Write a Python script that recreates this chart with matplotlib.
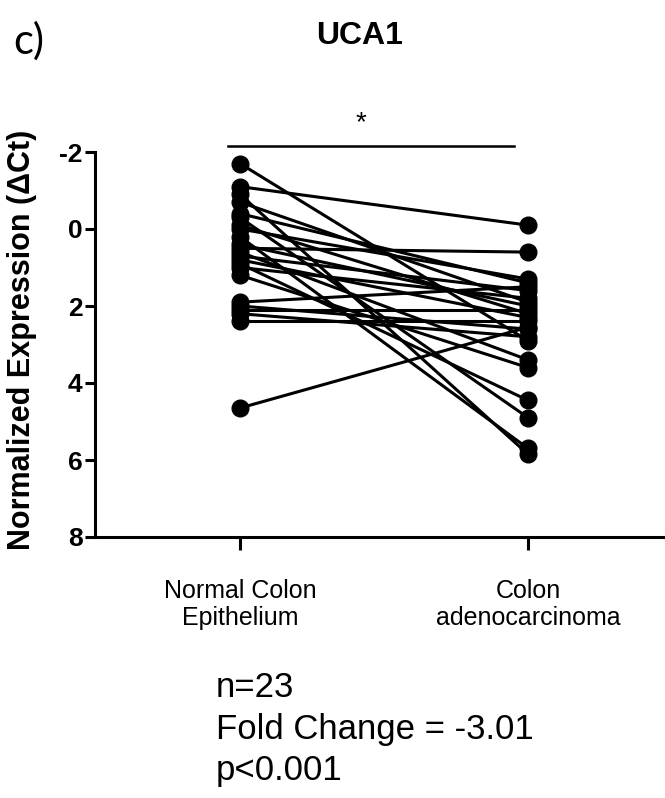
import matplotlib
matplotlib.use("Agg")
import matplotlib.pyplot as plt

plt.rcParams['font.family'] = ['Liberation Sans', 'DejaVu Sans']

groups = ["Normal Colon\nEpithelium", "Colon\nadenocarcinoma"]
normal = [-1.7, -1.1, -0.9, -0.7, -0.4, -0.3, -0.1, 0.0, 0.2, 0.4, 0.5, 0.6,
          0.7, 0.8, 0.9, 1.0, 1.2, 1.9, 2.0, 2.1, 2.2, 2.4, 4.65]
tumor = [2.9, -0.1, 5.85, 1.9, 1.4, 4.9, 2.2, 1.3, 5.7, 2.0, 0.6, 3.4,
         1.6, 2.3, 4.45, 1.8, 3.6, 1.5, 2.6, 2.1, 2.8, 2.4, 2.55]
yticks = [-2, 0, 2, 4, 6, 8]

W, H = 665, 798
fig = plt.figure(figsize=(W/100, H/100), dpi=100)
ax = fig.add_axes([95/W, 1-537/H, 570/W, (537-152)/H])

for a, b in zip(normal, tumor):
    ax.plot([0, 1], [a, b], color='black', lw=2.2, marker='o', ms=12,
            solid_capstyle='butt', zorder=2)

ax.set_xlim((95-240)/288, (665-240)/288)
ax.set_ylim(8, -2)
ax.set_yticks(yticks)
ax.set_yticklabels([str(t) for t in yticks], fontsize=19, fontweight='bold')
ax.set_xticks([0, 1])
ax.set_xticklabels(groups, fontsize=18, linespacing=1.2)
for s in ['top', 'right']:
    ax.spines[s].set_visible(False)
for s in ['left', 'bottom']:
    ax.spines[s].set_linewidth(2.2)
ax.tick_params(axis='y', length=7, width=2.2, pad=2)
ax.tick_params(axis='x', length=9, width=2.2, pad=21)

fig.text(22/W, 1-340/H, "Normalized Expression (\u0394Ct)", rotation=90,
         ha='center', va='center', fontsize=22, fontweight='bold')

# significance bar
ax.plot([-0.04, 0.95], [-2.15, -2.15], color='black', lw=1.8, clip_on=False)
ax.text(0.42, -2.42, "*", ha='center', va='bottom', fontsize=20)

fig.text(360/W, 1-36/H, "UCA1", ha='center', va='center', fontsize=23, fontweight='bold')
fig.text(13/W, 1-41/H, "c)", ha='left', va='center', fontsize=30, family=['Lato', 'DejaVu Sans'])
fig.text(216/W, 1-729/H, "n=23\nFold Change = -3.01\np<0.001", ha='left', va='center',
         fontsize=25, linespacing=1.32)

fig.savefig("out.png", dpi=100)
